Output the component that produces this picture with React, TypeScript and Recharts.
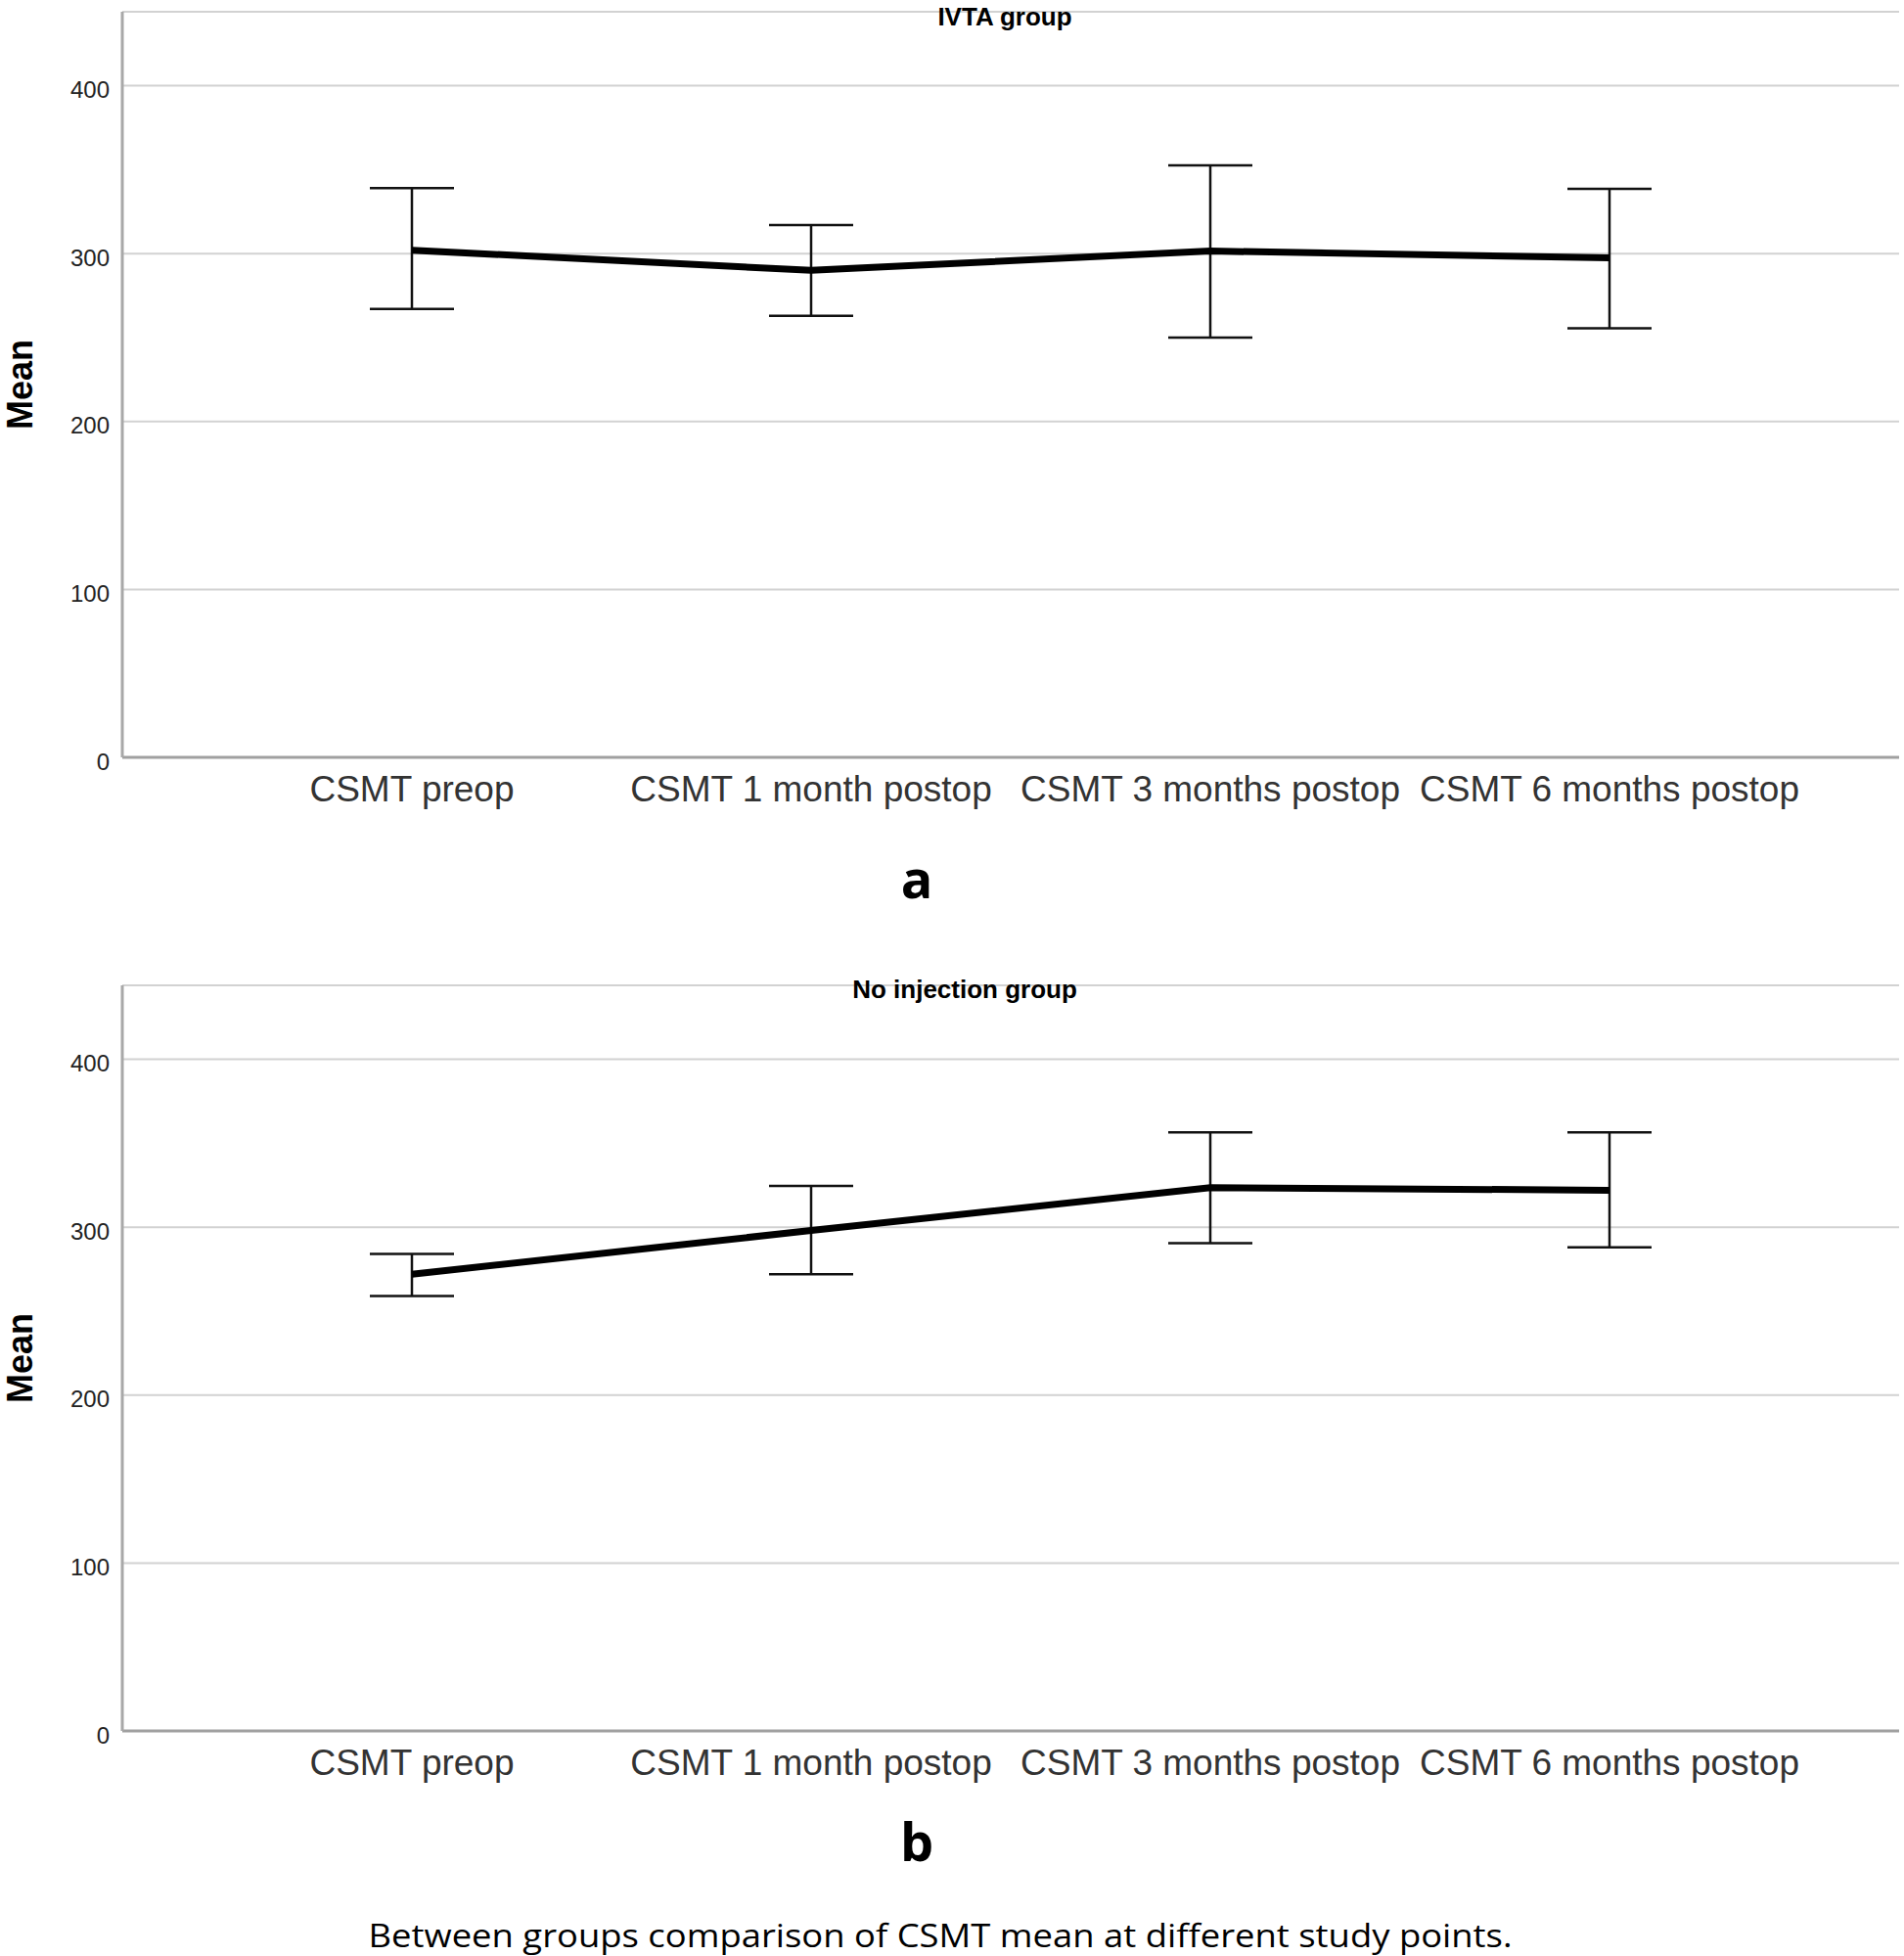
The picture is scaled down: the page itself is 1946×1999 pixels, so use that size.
import React from 'react';
import { LineChart, Line, ErrorBar, XAxis, YAxis, CartesianGrid } from 'recharts';

// time points
const categories = ['CSMT preop', 'CSMT 1 month postop', 'CSMT 3 months postop', 'CSMT 6 months postop'];

// IVTA group (mean, 95% CI)
const ivtaMean = [302, 290, 301.5, 297.5];
const ivtaLower = [267, 263, 250, 255.5];
const ivtaUpper = [339, 317, 352.5, 338.5];

// no injection group
const noInjMean = [272, 298, 323.5, 322];
const noInjLower = [259, 272, 290.5, 288];
const noInjUpper = [284, 324.5, 356.5, 356.5];

const yTicks = [0, 100, 200, 300, 400];
const yMax = 444;

const FONT = '"Liberation Sans", Arial, sans-serif';

const buildRows = (mean: number[], lower: number[], upper: number[]) =>
  categories.map((cat, i) => ({
    cat,
    mean: mean[i],
    err: [mean[i] - lower[i], upper[i] - mean[i]],
  }));

const CHART_W = 1946;
const CHART_H = 860;

function Panel({ rows, top }: { rows: any[]; top: number }) {
  return (
    <div style={{ position: 'absolute', left: 0, top, width: CHART_W, height: CHART_H }}>
      <LineChart
        width={CHART_W}
        height={CHART_H}
        data={rows}
        margin={{ top: 12, right: 5, bottom: 26, left: 0 }}
      >
        <CartesianGrid vertical={false} stroke="#d2d2d2" strokeWidth={2} />
        <XAxis
          dataKey="cat"
          padding={{ left: 296, right: 296 }}
          axisLine={{ stroke: '#a0a0a0', strokeWidth: 3 }}
          tickLine={false}
          tickSize={0}
          tickMargin={19}
          height={60}
          interval={0}
          tick={{ fontSize: 37, fill: '#333', fontFamily: FONT }}
        />
        <YAxis
          width={125}
          domain={[0, yMax]}
          ticks={yTicks}
          interval={0}
          allowDataOverflow
          axisLine={{ stroke: '#a8a8a8', strokeWidth: 3 }}
          tickLine={false}
          tickSize={0}
          tickMargin={13}
          tick={{ fontSize: 24, fill: '#222', fontFamily: FONT, dy: 4 }}
        />
        <Line
          dataKey="mean"
          stroke="#000"
          strokeWidth={7}
          dot={false}
          activeDot={false}
          isAnimationActive={false}
        >
          <ErrorBar dataKey="err" width={43} stroke="#111" strokeWidth={2.5} isAnimationActive={false} />
        </Line>
      </LineChart>
    </div>
  );
}

export default function App() {
  const ivtaRows = buildRows(ivtaMean, ivtaLower, ivtaUpper);
  const noInjRows = buildRows(noInjMean, noInjLower, noInjUpper);

  return (
    <div style={{ position: 'absolute', left: 0, top: 0, width: 1946, height: 1999, background: '#fff', overflow: 'hidden' }}>
      <Panel rows={ivtaRows} top={0} />
      <Panel rows={noInjRows} top={995} />
      {/* titles, axis labels, panel letters, caption */}
      <svg
        width={1946}
        height={1999}
        style={{ position: 'absolute', left: 0, top: 0, pointerEvents: 'none' }}
      >
        <text x={1027} y={26} textAnchor="middle" fontFamily={FONT} fontWeight="bold" fontSize={26} fill="#000">
          IVTA group
        </text>
        <text x={986} y={1020} textAnchor="middle" fontFamily={FONT} fontWeight="bold" fontSize={26} fill="#000">
          No injection group
        </text>
        <text
          x={0}
          y={0}
          transform="translate(33 393) rotate(-90)"
          textAnchor="middle"
          fontFamily={FONT}
          fontWeight="bold"
          fontSize={36}
          fill="#000"
        >
          Mean
        </text>
        <text
          x={0}
          y={0}
          transform="translate(33 1388) rotate(-90)"
          textAnchor="middle"
          fontFamily={FONT}
          fontWeight="bold"
          fontSize={36}
          fill="#000"
        >
          Mean
        </text>
        <text x={937} y={918} textAnchor="middle" fontFamily='"Open Sans", sans-serif' fontWeight="bold" fontSize={54} fill="#000">
          a
        </text>
        <text x={937} y={1902} textAnchor="middle" fontFamily='"Open Sans", sans-serif' fontWeight="bold" fontSize={54} fill="#000">
          b
        </text>
        <text
          x={961}
          y={1990}
          textAnchor="middle"
          fontFamily='"Open Sans", sans-serif'
          fontSize={32}
          fill="#000"
          textLength={1169}
          lengthAdjust="spacingAndGlyphs"
        >
          Between groups comparison of CSMT mean at different study points.
        </text>
      </svg>
    </div>
  );
}
